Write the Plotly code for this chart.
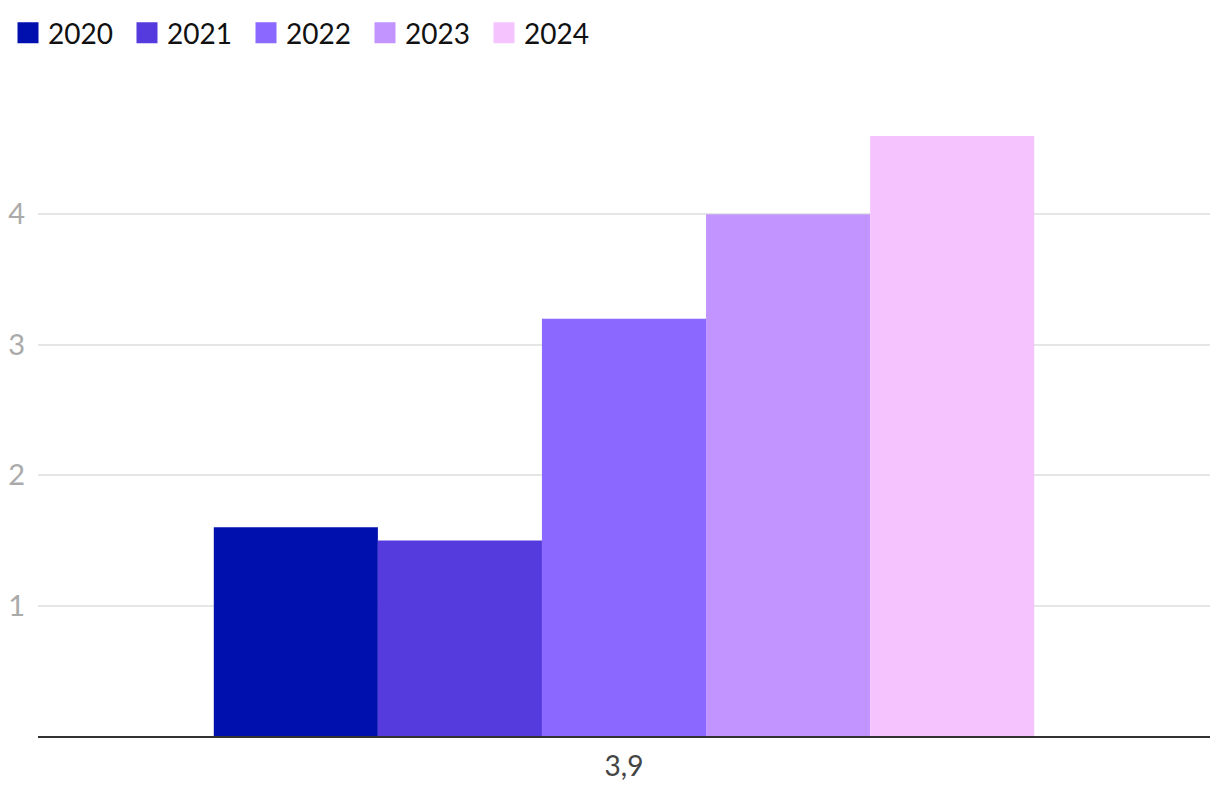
import plotly.graph_objects as go

categories = ['3,9']
years = ['2020', '2021', '2022', '2023', '2024']
values = [1.6, 1.5, 3.2, 4.0, 4.6]
colors = ['#0010AE', '#553BDE', '#8B68FF', '#C194FF', '#F5C4FF']
ytick_vals = [1, 2, 3, 4]

fig = go.Figure()
for yr, val, col in zip(years, values, colors):
    fig.add_trace(go.Bar(x=categories, y=[val], name=yr, marker_color=col,
                         marker_line_width=0, showlegend=False, legendgroup=yr))
# legend entries with bigger squares
for yr, col in zip(years, colors):
    fig.add_trace(go.Scatter(x=[None], y=[None], mode='markers', name=yr, legendgroup=yr,
                             marker=dict(symbol='square', size=16, color=col,
                                         line=dict(color=col, width=5))))

# page body has an 8px margin, so shift the margins to compensate
fig.update_layout(
    width=1220, height=798,
    font=dict(family='Lato', size=28, color='#222'),
    plot_bgcolor='white', paper_bgcolor='white',
    barmode='group', bargap=0.3, bargroupgap=0,
    margin=dict(l=30, r=18, t=102, b=70),
    legend=dict(orientation='h', xref='container', yref='container', x=0, y=1,
                xanchor='left', yanchor='top', font=dict(size=28, color='#111'),
                itemwidth=30, entrywidth=74, tracegroupgap=0, traceorder='normal'),
    xaxis=dict(showline=True, linecolor='#333', linewidth=2, showgrid=False,
               tickfont=dict(size=28, color='#444'), ticks='', automargin=False,
               ticklabelstandoff=4),
    yaxis=dict(range=[0, 4.8], tickvals=ytick_vals, showgrid=True, gridcolor='#e6e6e6',
               gridwidth=1.5, zeroline=False, tickfont=dict(size=29, color='#aaaaaa'),
               ticklabelstandoff=12, automargin=False),
)

fig.write_html("out.html")
